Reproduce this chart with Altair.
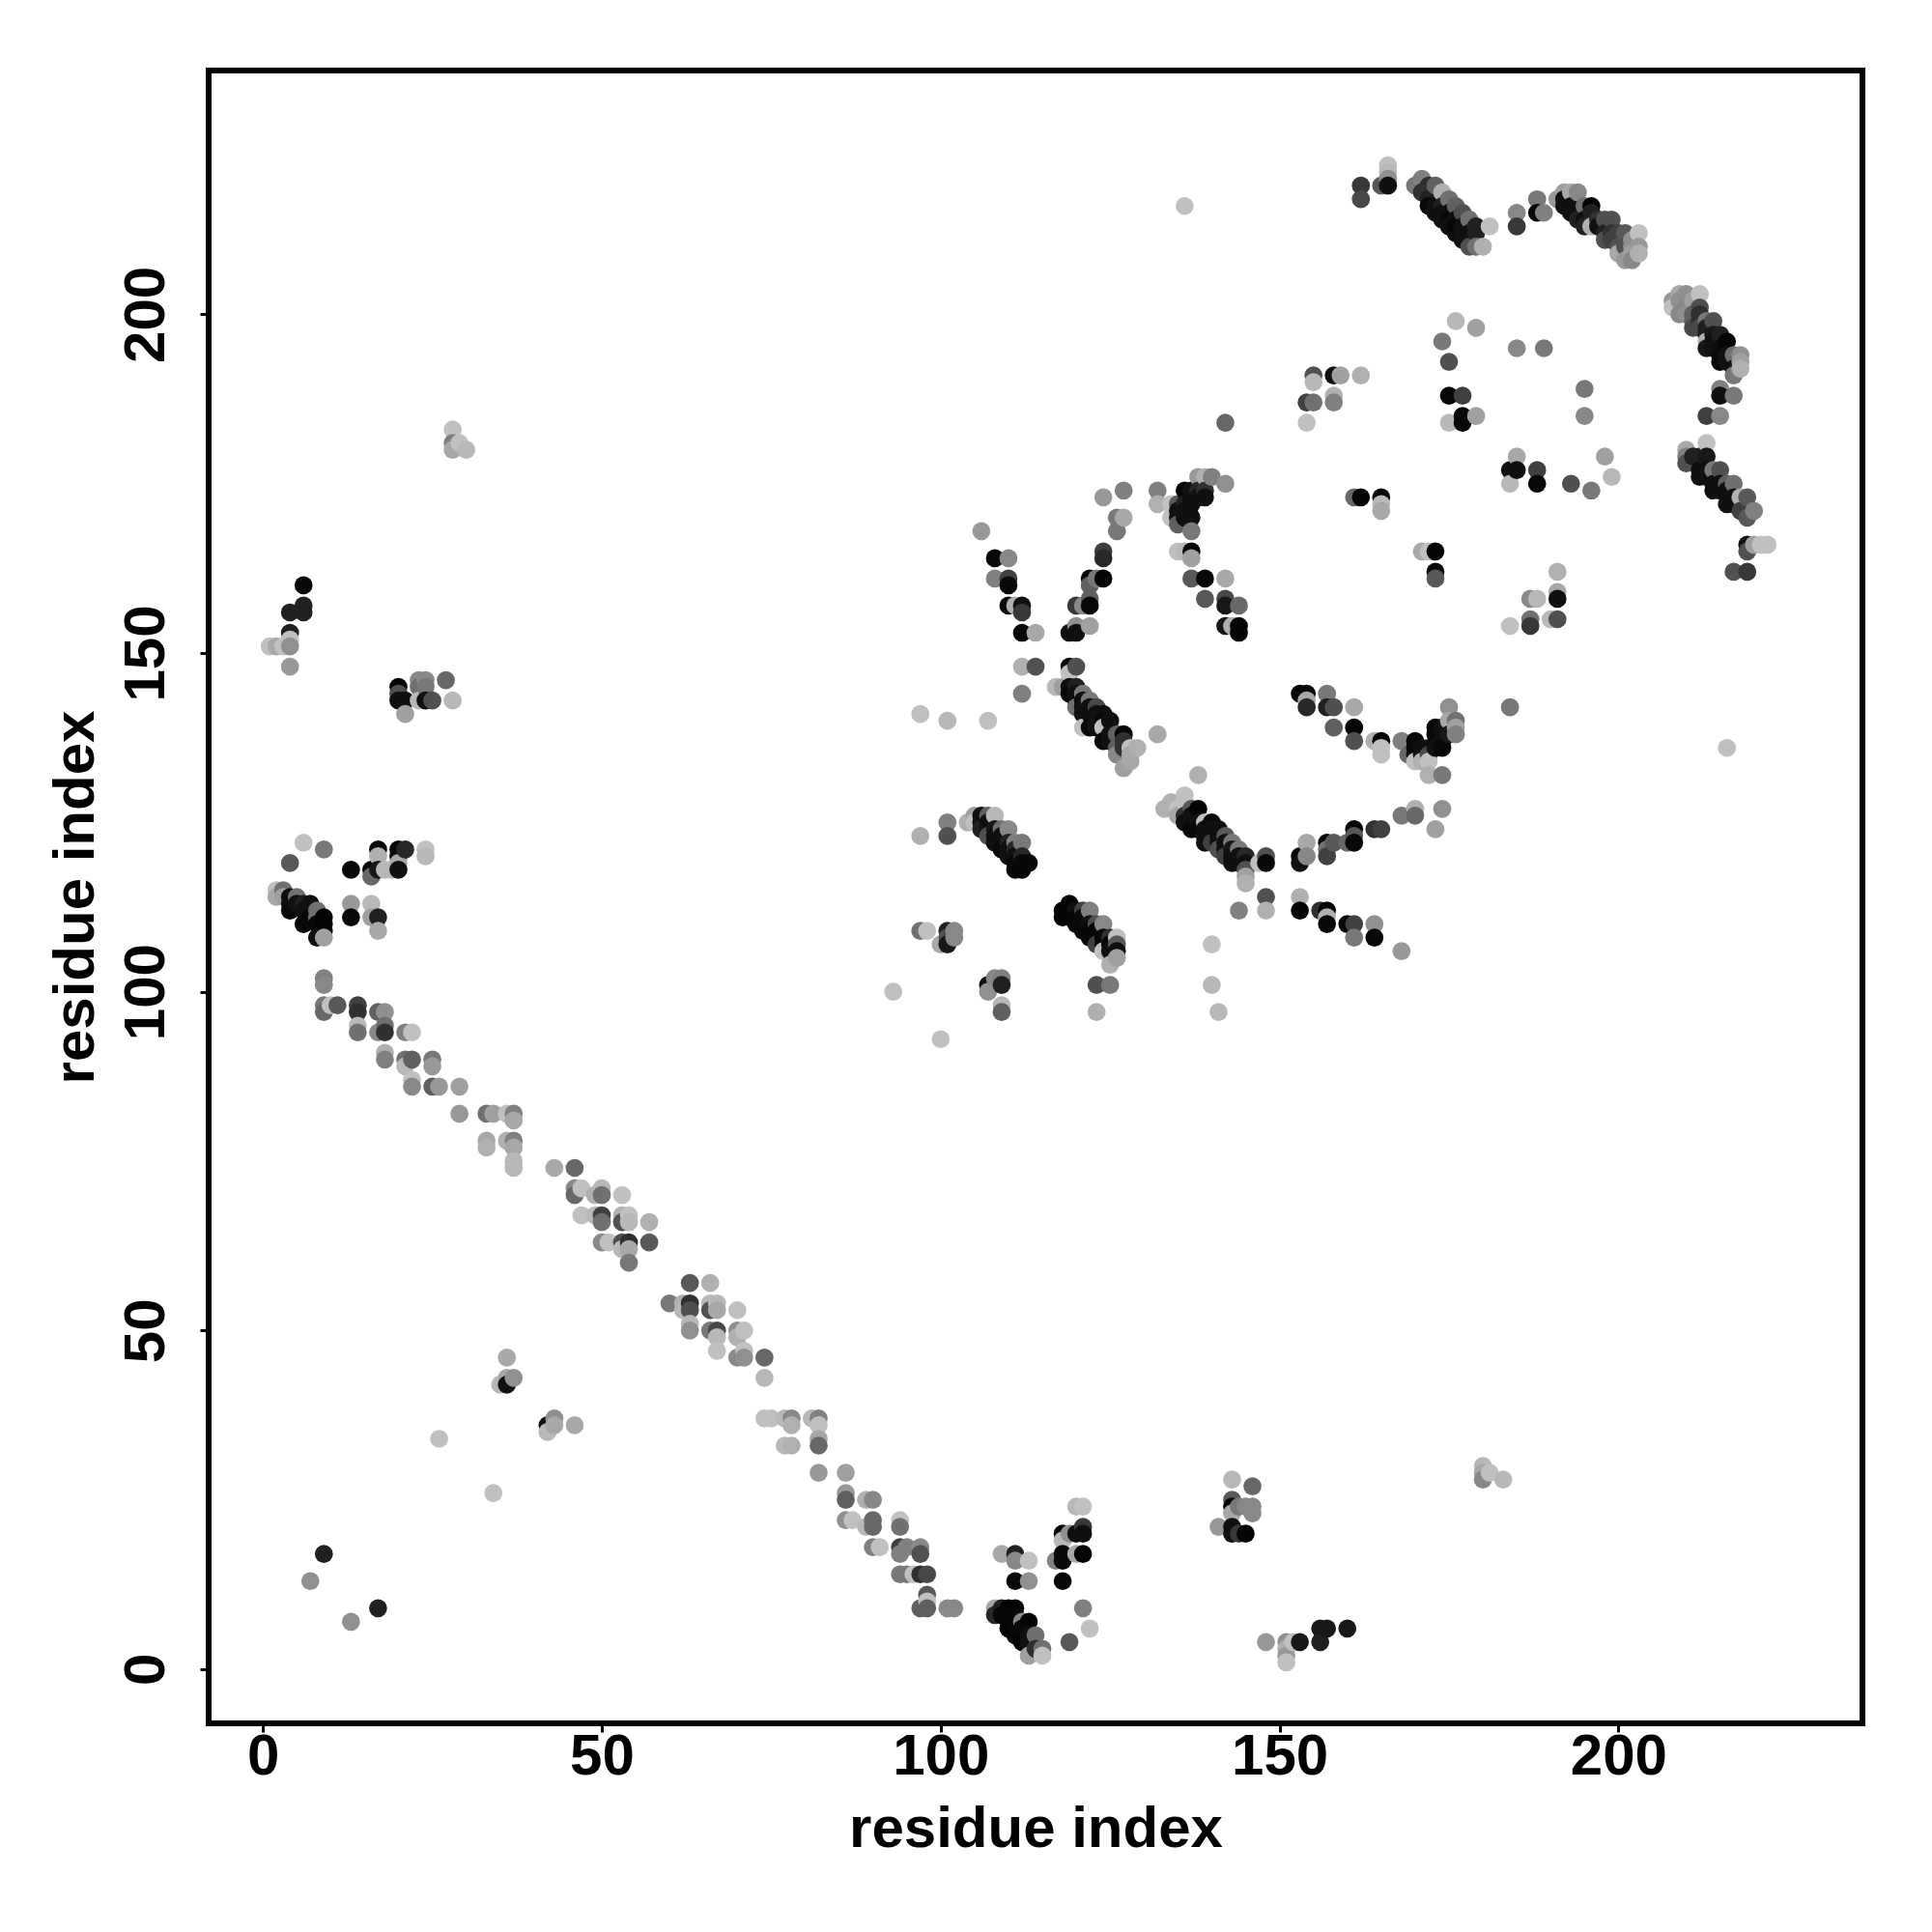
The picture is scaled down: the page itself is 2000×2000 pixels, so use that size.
import altair as alt
import pandas as pd

# (residue i, residue j, grey level)
isolated = [(9,17,0x20),(7,13,0x90),(17,9,0x20),(13,7,0x90),(26,34,0xc0),(34,26,0xc0),(36,46,0xa8),(35,42,0xb8),(36,42,0x10),(36,43,0xa8),(37,43,0x90),
 (42,36,0x10),(42,35,0xb8),(43,37,0x90),(43,36,0xa8),(46,36,0xa8),(136,216,0xc0),(216,136,0xc0),(184,142,0x78),(93,100,0xc0),(100,93,0xc0),
 (180,30,0xb8),(180,29,0xa8),(180,28,0x88),(181,29,0xc0),(183,28,0xb8)]
iso_top = [(28,183,0xc0),(28,181,0x80),(28,180,0xa8),(29,181,0xc0),(30,180,0xb8),
 (6,160,0x08),(6,157,0x20),(6,156,0x20),(4,156,0x20),(4,153,0x20),(1,151,0xc0),(2,151,0xa8),(3,151,0xc0),(4,152,0xc0),(4,151,0x90),(4,148,0x98),
 (20,145,0x08),(20,144,0x50),(20,143,0x10),(21,143,0x10),(21,141,0xa0),(23,146,0x88),(24,146,0x88),(23,145,0x70),(24,145,0x78),(23,143,0xb8),(24,143,0x10),(25,143,0x50),(27,146,0x68),(28,143,0xb8)]
left_arc = [(6,122,0xc0),(9,121,0x78),(4,119,0x58),(13,118,0x08),(17,121,0x08),(17,120,0xb0),(16,118,0x08),(17,118,0x18),(16,117,0x68),(20,121,0x08),(21,121,0x28),(20,120,0x08),(20,119,0xa8),(20,118,0x10),(19,118,0xb8),(18,118,0xb8),(24,121,0xc0),(24,120,0xb8),
 (2,115,0xc0),(2,114,0xa8),(3,115,0x70),(3,114,0xa0),(4,114,0x10),(4,113,0x10),(4,112,0x08),(5,114,0x70),(5,113,0x10),(6,113,0x20),(6,112,0x10),(6,110,0x08),(7,113,0x10),(7,111,0x08),(8,112,0x70),(8,111,0x70),(8,110,0x08),(8,108,0x10),(9,111,0x05),(9,110,0x05),(9,109,0x05),(9,108,0xa0),
 (13,113,0x98),(13,111,0x08),(16,113,0xb8),(16,111,0xa0),(17,111,0x20),(17,109,0xa8)]
diag_a = [(9,102,0x80),(9,101,0x88),(9,98,0x78),(9,97,0x68),(10,98,0xc0),(11,98,0x58),(14,98,0x40),(14,97,0x30),(14,95,0xb8),(14,94,0x70),(17,97,0x60),(18,97,0x90),(18,95,0x70),(18,94,0x30),(17,94,0x88),(21,94,0x80),(22,94,0xc0),
 (18,91,0xb0),(18,90,0x80),(21,90,0x70),(21,89,0xb8),(22,90,0x60),(25,90,0x78),(25,89,0x98),(22,87,0xc0),(22,86,0x88),(25,86,0x60),(26,86,0x98),(29,86,0xa0),(29,82,0x98),
 (33,82,0x70),(34,82,0xa0),(36,82,0xc0),(37,82,0x80),(37,81,0xa8),(33,78,0xa8),(33,77,0xb0),(36,78,0xb0),(37,78,0x80),(37,77,0xa8),(37,75,0xb8),(37,74,0xb8)]
diag_b = [(46,74,0x68),(43,74,0xa8),(46,71,0x88),(46,70,0x68),(47,71,0xc0),(49,70,0xb0),(50,71,0xb8),(50,70,0x70),(53,70,0xc0),
 (47,67,0xc0),(49,67,0xb8),(50,67,0x40),(50,66,0x70),(53,67,0xb0),(53,66,0x50),(54,67,0xc0),(54,66,0xb8),(57,66,0xb0),
 (50,63,0x88),(51,63,0xc0),(53,63,0x50),(53,62,0xb8),(54,63,0x30),(54,62,0xa8),(57,63,0x58),(54,60,0x78),
 (63,57,0x58),(66,57,0xb0),(60,54,0x78),(62,54,0xb0),(62,53,0xb8),(63,54,0x30),(63,53,0x50),(66,54,0xb8),(66,53,0x50),(67,54,0xb8),(67,53,0xa8),(70,53,0xc0),
 (63,51,0xb8),(63,50,0x90),(66,50,0x78),(67,50,0x48),(67,49,0xb8),(70,50,0x90),(71,50,0xc0),(70,49,0xb0),(67,47,0xc0),(70,46,0x88),(71,47,0xc0),(71,46,0x90)]
diag_c = [(74,46,0x68),(74,43,0xb8),(74,37,0xc0),(75,37,0xc0),(77,37,0xb8),(78,37,0x88),(78,36,0xb0),(81,37,0xb8),(82,37,0x80),(82,36,0xc0),(77,33,0xb8),(78,33,0xb0),(82,34,0xa8),(82,33,0x68),
 (82,29,0x98),(86,29,0xa0),(86,26,0x98),(86,25,0x60),(89,25,0xb0),(90,25,0x88),(86,22,0x90),(87,22,0xc0),(89,21,0xb8),(90,22,0x68),(90,21,0x68),(94,22,0xc0),(94,21,0x70),
 (90,18,0x80),(91,18,0xc0),(94,18,0x40),(94,17,0x80),(95,18,0x80),(97,18,0x88),(97,17,0x50),(94,14,0x78),(95,14,0x78),(96,14,0xc0),(97,14,0x30),(98,14,0x48),
 (98,11,0x58),(98,10,0xc0),(97,9,0x60),(98,9,0x60),(101,9,0x88),(102,9,0x88)]
low_mid = [(109,17,0xa8),(111,17,0x20),(111,16,0x88),(113,16,0xc0),(111,13,0x08),(113,13,0x90),
 (108,9,0xa8),(108,8,0x28),(109,9,0x20),(109,8,0x08),(110,9,0x05),(110,8,0x08),(110,7,0x08),(110,6,0x05),(111,9,0x05),(111,8,0x08),(111,6,0x08),(111,5,0x08),(112,7,0x88),(112,6,0x08),(112,5,0x08),(112,4,0x05),(113,7,0x05),(113,5,0x10),(113,4,0x10),(113,2,0xa0),(114,5,0x70),(114,3,0x30),(115,3,0x70),(115,2,0xc0),
 (117,16,0x80),(118,20,0x05),(118,19,0xb8),(118,17,0x08),(118,16,0x08),(118,13,0x08),(119,20,0x90),(120,20,0x10),(121,21,0x38),(121,20,0x10),(120,17,0xa8),(121,17,0x05),(120,24,0xb8),(121,24,0xc0),(121,9,0x80),(122,6,0xc0),(119,4,0x58),
 (143,28,0xb8),(146,27,0x68),(143,25,0x58),(143,24,0x08),(143,23,0xa8),(144,24,0x78),(145,24,0x88),(146,24,0x88),(146,23,0x88),(141,21,0x98),(143,21,0x10),(143,20,0x10),(144,20,0x38),(145,20,0x05),
 (148,4,0x98),(151,4,0x90),(152,4,0xc0),(153,4,0x18),(151,3,0xb0),(151,2,0x98),(151,1,0xc0),(156,4,0x20),(156,6,0x18),(157,6,0x18),(160,6,0x18)]
mid_block = [(97,123,0xb0),(101,125,0x80),(101,123,0x50),(104,125,0xb0),(105,126,0xa0),(105,125,0xc0),(106,126,0x10),(106,125,0x10),(106,124,0x20),(107,126,0x60),(107,125,0x10),(107,124,0x10),(107,123,0x50),(108,126,0xb8),(108,124,0x18),(108,123,0x10),(108,122,0x10),(109,124,0x70),(109,123,0x10),(109,122,0x10),(109,121,0x08),(110,124,0x88),(110,122,0x20),(110,121,0x10),(110,120,0x10),(111,122,0x80),(111,121,0x28),(111,120,0x10),(111,119,0x08),(111,118,0x08),(112,122,0x78),(112,120,0x28),(112,119,0x08),(112,118,0x08),(113,119,0x08),
 (97,109,0x70),(98,109,0xc0),(101,109,0x20),(102,109,0x88),(102,108,0x88),(100,107,0xa8),(101,107,0x18),(101,108,0x50),
 (107,101,0x10),(108,102,0x88),(109,102,0x80),(107,100,0x90),(109,101,0x20),(109,98,0xb8),(109,97,0x60),
 (119,113,0x05),(118,112,0x05),(118,111,0x05),(119,112,0x05),(119,111,0x05),(120,112,0x10),(120,111,0x08),(120,110,0x08),(121,112,0x40),(121,111,0x08),(121,110,0x08),(121,109,0x08),(122,112,0x80),(122,110,0x10),(122,109,0x08),(122,108,0x08),(123,110,0x50),(123,109,0x08),(123,108,0x08),(123,107,0x40),(124,110,0x88),(124,108,0x08),(124,107,0x08),(124,106,0xc0),(125,108,0x30),(125,107,0x08),(125,106,0x10),(125,104,0xb0),(126,108,0xc0),(126,107,0x58),(126,106,0x10),(126,105,0xa0),
 (123,101,0x50),(125,101,0x78),(123,97,0xb0),(140,107,0xc0),(140,101,0xb8),(141,97,0xb8)]
mid_chain = [(138,132,0xb0),(133,127,0xb0),(134,128,0xb0),(135,126,0xa8),(135,127,0xc0),(136,129,0xc0),(136,128,0xc0),(136,126,0x30),(136,125,0x10),(137,127,0x58),(137,126,0x10),(137,124,0x08),(138,127,0x05),(138,125,0x10),(138,124,0x08),(139,125,0xc0),(139,124,0x10),(139,123,0x10),(139,122,0x10),(140,125,0x08),(140,124,0x10),(140,123,0x10),(140,122,0x40),(141,124,0x10),(141,123,0x10),(141,122,0x10),(141,121,0x50),(142,123,0x58),(142,122,0x10),(142,121,0x10),(142,120,0x40),(143,122,0x78),(143,121,0x18),(143,120,0x10),(143,119,0x10),(144,121,0x78),(144,120,0x10),(144,119,0x10),(145,120,0x28),(145,119,0x10),(145,118,0x50),(145,117,0xa0),(145,116,0xb0),
 (147,119,0xc0),(148,120,0x50),(148,119,0x08),(148,114,0x50),(148,112,0xb0),(144,112,0x80),
 (153,120,0x05),(153,119,0x10),(154,122,0xa8),(154,120,0x88),(153,114,0xb0),(153,112,0x05),(157,122,0x08),(158,122,0x58),(157,121,0x70),(157,120,0x40),(160,122,0x68),(161,124,0x05),(161,123,0x58),(161,122,0x08),(164,124,0x30),(165,124,0x40),(168,126,0x78),(170,127,0xb0),(170,126,0x68),(174,127,0x90),(173,124,0xa0),
 (156,112,0x30),(157,112,0x05),(157,111,0xb0),(157,110,0x08),(160,110,0x05),(161,110,0x40),(161,108,0x78),(164,110,0x90),(164,108,0x08),(168,106,0x98)]
v_shape = [(106,168,0x98),(108,164,0x08),(110,164,0x88),(108,161,0x80),(110,161,0x40),(110,160,0x08),(110,157,0x08),(111,157,0xb0),(112,157,0x10),(112,156,0x38),(112,153,0x08),(114,153,0xa8),(112,148,0xb0),(114,148,0x50),(112,144,0x80),(107,140,0xc0),(97,141,0xc0),(101,140,0xb8),
 (124,173,0x98),(127,174,0x80),(126,170,0x78),(127,170,0xa8),(126,168,0x78),(124,165,0x40),(124,164,0x28),(122,161,0x08),(123,161,0x78),(124,161,0x05),(122,160,0x60),(122,158,0x60),(120,157,0x38),(121,157,0x88),(122,157,0x08),(119,153,0x10),(120,153,0x10),(120,154,0x90),(122,154,0xa0),
 (117,145,0xb8),(118,145,0xa0),(119,148,0x08),(120,148,0x50),(119,147,0xc0),(119,145,0x10),(119,144,0x08),(120,145,0x20),(120,144,0x10),(120,143,0x10),(121,144,0x78),(121,143,0x10),(121,142,0x10),(121,141,0x10),(121,139,0xc0),(122,143,0x78),(122,142,0x10),(122,141,0x10),(122,139,0x08),(120,142,0x70),(123,142,0x48),(123,141,0x10),(123,140,0x10),(123,139,0x10),(124,141,0x10),(124,140,0x08),(124,139,0xc0),(124,137,0x08),(125,140,0x10),(125,138,0x10),(125,137,0x10),(126,138,0x60),(126,136,0x60),(126,135,0x88),(127,138,0x05),(127,137,0x30),(127,136,0x30),(127,133,0xa0),(128,136,0xc0),(128,134,0xa8),(129,136,0xb0),(128,135,0xa8),(132,138,0xa8)]
upper_mid = [(132,174,0x80),(132,172,0xb0),(134,172,0xc0),(134,170,0xc0),(135,172,0x58),(135,171,0x10),(135,170,0x10),(135,169,0x60),(136,174,0x05),(136,172,0x20),(136,171,0x10),(136,170,0x10),(137,174,0x10),(137,173,0x10),(137,172,0x10),(137,170,0x10),(137,168,0x78),(138,176,0x98),(138,174,0x28),(138,173,0x10),(139,176,0xb0),(139,173,0x10),(139,174,0x30),(140,176,0x80),(142,175,0x90),(142,184,0x68),
 (135,165,0xc0),(136,165,0xb8),(137,165,0x05),(137,164,0xa0),(137,161,0x58),(139,161,0x08),(142,161,0xa8),(139,158,0x58),(142,158,0x48),(142,157,0x18),(144,157,0x68),(142,154,0x18),(143,154,0xb0),(144,154,0x05),(144,153,0x05),
 (161,173,0x68),(162,173,0x05),(165,173,0x05),(165,172,0xb8),(165,171,0xa8),(171,165,0xa8),(172,165,0xc0),(173,165,0x05),(173,162,0x08),(173,161,0x58),
 (155,191,0x50),(155,190,0xb8),(158,191,0x10),(159,191,0xa0),(162,191,0xb0),(154,187,0x40),(155,187,0x70),(158,188,0xb0),(158,187,0x80),(154,184,0xc0)]
right_mid = [(184,177,0x10),(185,177,0x10),(184,175,0xb8),(185,179,0xa8),(188,177,0x40),(188,175,0x08),(191,162,0xb0),(191,159,0xa8),(191,158,0x10),(187,158,0x88),(188,158,0xb8),(187,155,0x70),(187,154,0x38),(184,154,0xc0),(190,155,0xb8),(191,155,0x50),
 (153,144,0x05),(154,144,0x08),(154,143,0xa8),(154,142,0x28),(157,144,0x78),(157,142,0x20),(158,142,0x50),(161,142,0xa8),(158,139,0x60),(161,139,0x05),(161,137,0x50),
 (164,137,0xb0),(165,137,0x05),(165,136,0xc0),(165,135,0xc0),(168,137,0x80),(169,135,0x68),(170,137,0x08),(170,136,0x08),(170,135,0x08),(170,134,0xc0),(171,136,0x10),(171,135,0x10),(171,134,0xb0),(172,136,0x10),(172,135,0x48),(172,134,0xc0),(172,132,0xb0),(173,136,0x10),(173,139,0x08),(173,138,0x08),(174,132,0x78),(174,139,0x10),(174,137,0x10),(174,136,0x08),(175,142,0x90),(175,140,0xa8),(175,138,0x18),(176,140,0x70),(176,139,0xa0),(176,138,0x80)]
top_chain = [(162,219,0x38),(162,217,0x48),(165,219,0x58),(166,219,0x10),(166,220,0x90),(166,221,0xb8),(166,222,0xc0),
 (170,219,0x78),(171,220,0x80),(171,218,0x30),(172,219,0x30),(172,217,0x20),(172,216,0x08),(173,219,0x60),(173,216,0x10),(173,215,0x10),(174,218,0xb0),(174,216,0x20),(174,215,0x10),(174,214,0x10),(175,217,0x70),(175,215,0x10),(175,214,0x08),(175,213,0x10),(176,216,0x60),(176,214,0x10),(176,213,0x08),(176,212,0x08),(177,215,0x50),(177,213,0x10),(177,212,0x10),(177,211,0x10),(178,214,0x70),(178,212,0x10),(178,211,0x10),(178,210,0x50),(179,213,0x20),(179,212,0x20),(179,210,0x70),(180,210,0xb0),(181,213,0xc0),
 (185,215,0x88),(185,213,0x38),(188,217,0x78),(188,215,0x08),(189,215,0x80),
 (191,217,0x98),(192,218,0xa0),(192,217,0x10),(192,216,0x10),(193,218,0xa8),(193,216,0x10),(193,215,0x10),(194,218,0x88),(194,215,0x10),(194,214,0x20),(195,216,0x70),(195,214,0x10),(195,213,0x20),(196,216,0x05),(196,215,0x20),(196,213,0xb0),(197,214,0x30),(197,213,0x10),(198,214,0x50),(198,212,0x20),(198,211,0x50),(199,214,0x50),(199,212,0x30),(199,211,0x40),(200,212,0x40),(200,210,0x50),(200,209,0xa8),(201,212,0x58),(201,210,0x50),(201,208,0x98),(202,211,0x90),(202,210,0x90),(202,209,0xa0),(202,208,0x88),(203,212,0xc0),(203,210,0x98),(203,209,0xb0)]
right_chain = [(176,199,0xb8),(179,198,0xa0),(174,196,0x78),(175,193,0x50),(175,188,0x08),(177,188,0x40),(175,184,0xb8),(177,185,0x08),(177,184,0x08),(179,185,0xa0),(185,195,0x88),(189,195,0x78),(195,189,0x78),(195,185,0x88),
 (193,175,0x50),(196,174,0x78),(198,179,0xa0),(199,176,0xb8),
 (208,202,0x98),(208,201,0xc0),(209,203,0xa8),(209,202,0x90),(209,200,0x88),(210,203,0x90),(210,201,0x88),(210,200,0x90),(211,202,0xa0),(211,200,0x60),(211,199,0x60),(211,198,0x48),(212,203,0xc0),(212,201,0x50),(212,200,0x30),(212,199,0x30),(212,198,0x48),(213,199,0x78),(213,198,0x20),(213,197,0x20),(213,196,0xb0),(213,195,0x18),(214,199,0x50),(214,197,0x18),(214,196,0x10),(214,195,0x10),(215,197,0x20),(215,195,0x10),(215,194,0x08),(215,193,0x08),(216,196,0x05),(216,194,0x10),(216,193,0x10),(217,194,0x70),(217,192,0x10),(217,191,0x78),(218,194,0x90),(218,193,0xa0),(218,192,0xb0),
 (215,189,0x80),(215,188,0x10),(217,188,0x78),(213,185,0x40),(215,185,0x88),
 (210,180,0xa8),(210,179,0x80),(210,178,0x50),(211,179,0x20),(212,179,0x20),(212,177,0x10),(212,176,0x10),(213,181,0xc0),(213,179,0x18),(213,177,0x10),(213,176,0x10),(214,177,0x78),(214,175,0x10),(214,174,0x10),(215,177,0x50),(215,175,0x10),(215,174,0x10),(216,175,0x60),(216,174,0x10),(216,172,0x10),(217,175,0x70),(217,173,0x10),(217,172,0x10),(218,173,0xb0),(218,171,0x40),(219,173,0x58),(219,170,0x58),(220,171,0x80),
 (219,166,0x10),(219,165,0x50),(220,166,0xa0),(221,166,0xc0),(222,166,0xc0),(217,162,0x50),(219,162,0x38)]

regions = [isolated, iso_top, left_arc, diag_a, diag_b, diag_c, low_mid, mid_block, mid_chain, v_shape, upper_mid, right_mid, top_chain, right_chain]
ticks = [0, 50, 100, 150, 200]
axis_title = "residue index"

rows = [p for r in regions for p in r]
df = pd.DataFrame(rows, columns=["i", "j", "g"]).drop_duplicates(["i", "j"], keep="last")
df["colour"] = ["#%02x%02x%02x" % (g, g, g) for g in df["g"]]
df = df.sort_values(["i", "j"], ascending=[True, False]).reset_index(drop=True)

font = "Liberation Sans"
chart = (
    alt.Chart(df)
    .mark_circle(size=350, opacity=1, stroke=None)
    .encode(
        x=alt.X("i:Q", scale=alt.Scale(domain=[-8, 236], nice=False, zero=False),
                axis=alt.Axis(values=ticks, title=axis_title, grid=False, domain=False, tickSize=9, tickWidth=3, tickColor="black",
                              labelFont=font, labelFontWeight="bold", labelFontSize=60, labelColor="black", labelPadding=-4, labelFlush=False,
                              titleFont=font, titleFontWeight="bold", titleFontSize=60, titleColor="black", titlePadding=16)),
        y=alt.Y("j:Q", scale=alt.Scale(domain=[-8, 236], nice=False, zero=False),
                axis=alt.Axis(values=ticks, title=axis_title, grid=False, domain=False, tickSize=9, tickWidth=3, tickColor="black",
                              labelFont=font, labelFontWeight="bold", labelFontSize=60, labelColor="black", labelAngle=270, labelAlign="center", labelBaseline="alphabetic", labelPadding=38, labelFlush=False,
                              titleFont=font, titleFontWeight="bold", titleFontSize=60, titleColor="black", titlePadding=12)),
        color=alt.Color("colour:N", scale=None),
        order=alt.Order("index:Q"),
    )
    .transform_calculate(index="datum.i * 1000 - datum.j")
    .properties(width=1712, height=1711, padding={"left": 208, "top": 65, "right": 10, "bottom": 200},
                autosize=alt.AutoSizeParams(type="none"), background="white")
    .configure_view(stroke="black", strokeWidth=6, fill="white")
)
chart.save("out.html", embed_options={"renderer": "svg", "actions": False})
